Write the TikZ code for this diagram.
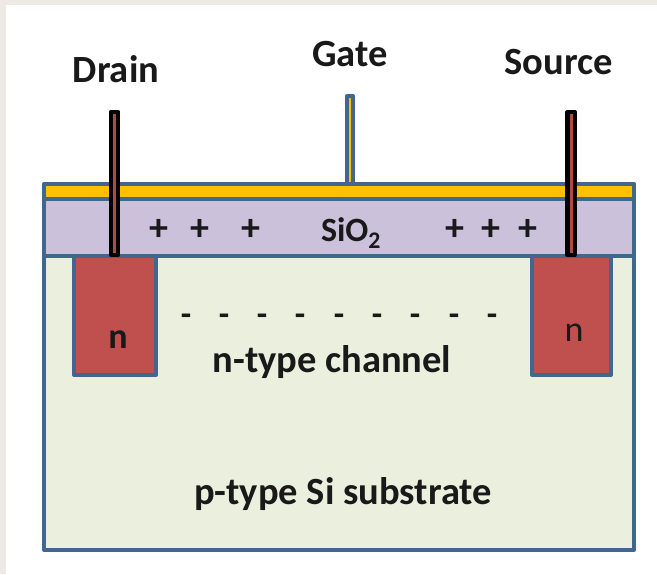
\documentclass[tikz,border=0pt]{standalone}
\usepackage{fontspec}
\setmainfont{Carlito}
\definecolor{edgeblue}{HTML}{41668F}
\definecolor{goldfill}{HTML}{FFC000}
\definecolor{oxide}{HTML}{CCC1DA}
\definecolor{subfill}{HTML}{EBEFDE}
\definecolor{wellred}{HTML}{C0504D}
\definecolor{pinred}{HTML}{B04A47}
\definecolor{pagebg}{HTML}{EDEAE5}
\tikzset{
  layerbox/.style={draw=edgeblue,line width=4pt,line join=round,inner sep=0pt,outer sep=0pt,rectangle,anchor=north west},
  pinbox/.style={draw=black,line width=4.2pt,fill=pinred,line join=round,inner sep=0pt,outer sep=0pt,rectangle,anchor=north west},
  lbl/.style={font=\fontsize{38.5}{40}\selectfont\bfseries,inner sep=0pt,text=black!90},
  sgn/.style={font=\fontsize{38}{40}\selectfont\bfseries,inner sep=0pt,text=black!90}
}
\begin{document}
\begin{tikzpicture}[x=1pt,y=-1pt]
\useasboundingbox (0,0) rectangle (657,574);
\fill[pagebg] (0,0) rectangle (657,574);
\fill[white] (6,5) rectangle (657,574);
\node[layerbox,fill=goldfill,minimum width=6pt,minimum height=90pt] (gatepin) at (347,96) {};
\node[layerbox,fill=subfill,minimum width=590pt,minimum height=295pt] (substrate) at (44,255) {};
\node[layerbox,fill=wellred,minimum width=82pt,minimum height=120pt] (drainwell) at (74,255) {};
\node[layerbox,fill=wellred,minimum width=79pt,minimum height=120pt] (sourcewell) at (532,255) {};
\node[layerbox,fill=oxide,minimum width=590pt,minimum height=57pt] (oxidelayer) at (44,198.5) {};
\node[layerbox,fill=goldfill,minimum width=590pt,minimum height=14.5pt] (gatelayer) at (44,184) {};
\node[pinbox,minimum width=7.4pt,minimum height=143pt] (drainpin) at (110.9,112) {};
\node[pinbox,minimum width=7.4pt,minimum height=143pt] (sourcepin) at (567.4,112) {};
\node[lbl] (draintext) at (116,69) {Drain};
\node[lbl] (gatetext) at (350,54) {Gate};
\node[lbl] (sourcetext) at (558.5,62) {Source};
\node[sgn] (pa) at (159,230) {+};
\node[sgn] (pb) at (200,230) {+};
\node[sgn] (pc) at (251,230) {+};
\node[sgn] (pd) at (455,230) {+};
\node[sgn] (pe) at (491,230) {+};
\node[sgn] (pf) at (528,230) {+};
\node[font=\fontsize{34}{36}\selectfont\bfseries,inner sep=0pt,text=black!90] (sio) at (351,233) {SiO\textsubscript{2}};
\foreach \i/\x in {a/186,b/224,c/262,d/300,e/339,f/377,g/415,h/454,i/492}
  \node[sgn,font=\fontsize{34}{36}\selectfont\bfseries] (m\i) at (\x,320) {-};
\node[lbl,font=\fontsize{36}{38}\selectfont\bfseries] (nleft) at (118,340) {n};
\node[font=\fontsize{36}{38}\selectfont,inner sep=0pt,text=black!90] (nright) at (574,333) {n};
\node[lbl] (channel) at (332,362) {n-type channel};
\node[lbl] (subtext) at (343,494) {p-type Si substrate};
\end{tikzpicture}
\end{document}
